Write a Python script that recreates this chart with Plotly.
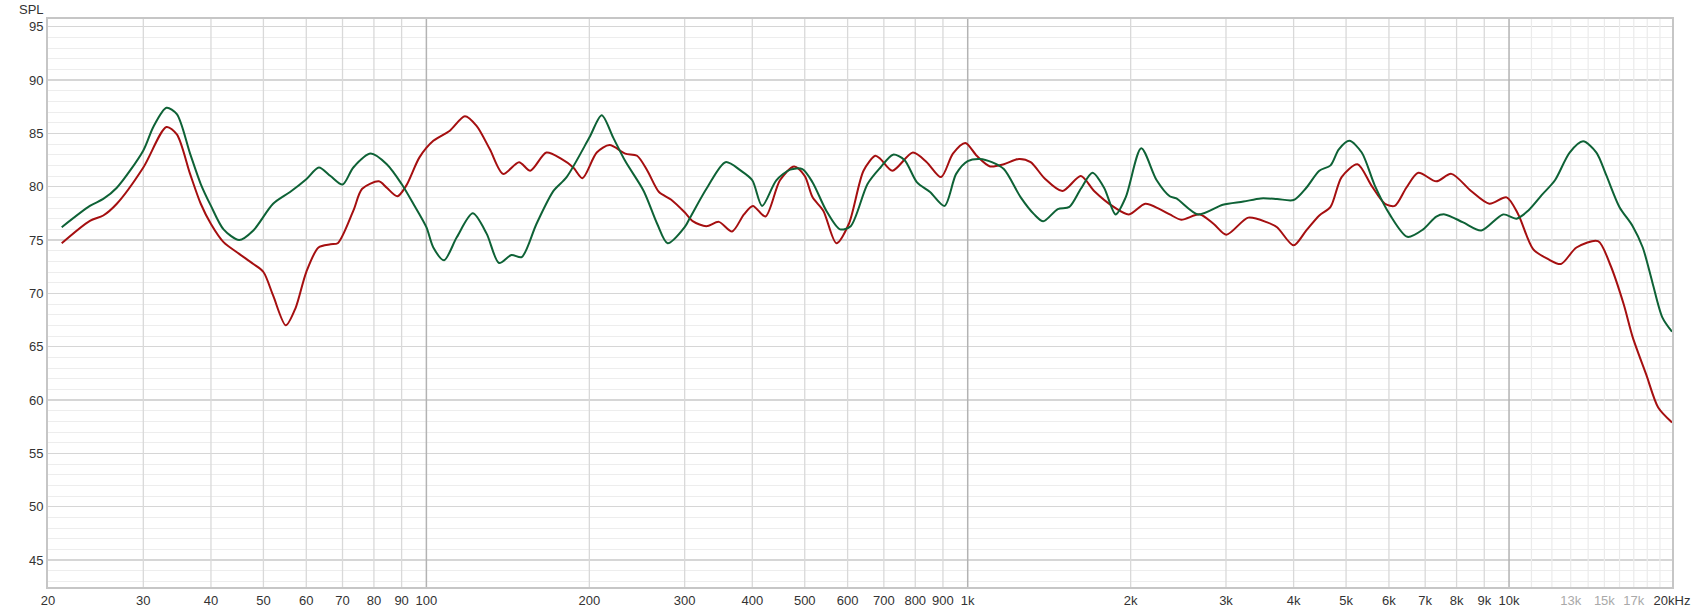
import math
import plotly.graph_objects as go

# ---------------- data ----------------
green_freq = [21.2, 23.9, 25.3, 26.8, 30, 31.3, 33.1, 34.6, 36.6, 38.3, 40, 42.2, 45.1, 47.9,
              52.1, 56, 60, 63.3, 66.5, 70, 73.3, 78.9, 84.5, 90, 94.6, 100, 103, 107.8, 113.8,
              121.8, 129.2, 136.2, 143.6, 150, 159.7, 171.7, 181.6, 200, 210.8, 221.4, 233, 252,
              267, 279, 300, 307, 330, 357, 381, 400, 417, 443, 470, 495, 517, 548, 581, 608,
              653, 690, 728, 764, 806, 852, 906, 952, 1000, 1054, 1108, 1166, 1253, 1327, 1379,
              1467, 1541, 1618, 1700, 1786, 1876, 1958, 2092, 2234, 2362, 2430, 2666, 2960, 3232,
              3478, 3728, 4000, 4222, 4462, 4680, 4848, 5070, 5344, 5650, 6020, 6490, 6940, 7338,
              7610, 8226, 8888, 9752, 10320, 10848, 11488, 12156, 12940, 13700, 14500, 15114,
              15990, 16920, 17660, 18406, 19194, 20000]
green_spl = [76.2, 78.2, 78.85, 79.9, 83.4, 85.6, 87.4, 86.8, 83.1, 80.25, 78.2, 76.0, 75.0, 75.9,
             78.4, 79.5, 80.7, 81.8, 81.0, 80.2, 81.8, 83.1, 82.1, 80.25, 78.4, 76.2, 74.3, 73.1, 75.25,
             77.5, 75.6, 72.85, 73.6, 73.4, 76.5, 79.6, 80.9, 84.6, 86.7, 84.6, 82.4, 79.6,
             76.5, 74.7, 76.2, 77.1, 79.9, 82.3, 81.5, 80.6, 78.2, 80.6, 81.6, 81.65, 80.4, 77.75, 76.0, 76.3,
             80.25, 81.8, 83.0, 82.5, 80.4, 79.5, 78.2, 81.2, 82.4, 82.6, 82.3, 81.65, 79.0, 77.4, 76.75,
             77.9, 78.1, 79.8, 81.3, 79.9, 77.4, 79.0, 83.6, 80.6, 79.1, 78.9, 77.4, 78.3, 78.6,
             78.9, 78.85, 78.75, 79.9, 81.5, 82.0, 83.5, 84.3, 83.2, 80.1, 77.4, 75.3, 76.0, 77.2,
             77.4, 76.65, 75.9, 77.4, 77.0, 77.75, 79.2, 80.6, 83.2, 84.25, 83.2, 81.1,
             78.1, 76.3, 74.3, 71.0, 67.75, 66.4]

red_freq = [21.2, 23.9, 25.3, 26.8, 30, 33.1, 34.6, 36.6, 38.3, 40, 42.2, 45.1, 47.9, 50, 52.1, 55,
            57.3, 60, 63.2, 66.5, 68.6, 73.3, 76.1, 81.7, 84.5, 88.4, 91.8, 97.1, 103, 110.5, 117.8,
            123.8, 131, 138.6, 148.3, 155.6, 166.6, 177.6, 186.8, 194.2, 206.4, 218, 233, 245, 256,
            269, 283, 300, 311, 329, 347, 367, 386, 401, 423, 450, 478, 500, 517, 541, 572, 603,
            642, 675, 690, 726, 792, 840, 893, 939, 990, 1039, 1100, 1166, 1244, 1307, 1386, 1496,
            1618, 1712, 1861, 1985, 2128, 2263, 2362, 2480, 2684, 2848, 3005, 3298, 3576, 3728,
            4000, 4222, 4462, 4680, 4906, 5248, 5570, 5900, 6150, 6460, 6798, 7338, 7822, 8508,
            9198, 9896, 10400, 11078, 11816, 12470, 13322, 14600, 15360, 16280, 16920, 17920,
            18860, 20000]
red_spl = [74.7, 76.8, 77.3, 78.4, 81.8, 85.6, 84.9, 81.2, 78.4, 76.5, 74.8, 73.7, 72.75, 72.0, 69.8, 67.0,
           68.6, 72.0, 74.3, 74.6, 74.7, 77.75, 79.8, 80.5, 79.9, 79.1, 80.1, 82.75, 84.3, 85.25, 86.6,
           85.7, 83.5, 81.2, 82.3, 81.5, 83.2, 82.6, 81.8, 80.8, 83.2, 83.9, 83.1, 82.9, 81.5,
           79.5, 78.8, 77.6, 76.75, 76.3, 76.7, 75.8, 77.4, 78.2, 77.2, 80.6, 81.9, 81.0, 79.0, 77.75, 74.7, 76.5,
           81.5, 82.9, 82.6, 81.5, 83.2, 82.3, 80.9, 83.1, 84.1, 82.9, 81.9, 82.1, 82.6, 82.3, 80.8, 79.6,
           81.0, 79.6, 78.1, 77.4, 78.4, 77.9, 77.4, 76.9, 77.4, 76.5, 75.5, 77.1, 76.65, 76.2,
           74.5, 75.9, 77.3, 78.1, 80.9, 82.1, 80.1, 78.4, 78.2, 79.9, 81.3, 80.5, 81.2, 79.6,
           78.4, 79.0, 77.4, 74.15, 73.2, 72.75, 74.3, 74.9, 72.75, 69.0, 65.9, 62.4,
           59.3, 57.9]

x_tick_vals = [20, 30, 40, 50, 60, 70, 80, 90, 100, 200, 300, 400, 500, 600, 700, 800, 900,
               1000, 2000, 3000, 4000, 5000, 6000, 7000, 8000, 9000, 10000, 13000, 15000, 17000, 20000]
x_tick_text = ["20", "30", "40", "50", "60", "70", "80", "90", "100", "200", "300", "400", "500",
               "600", "700", "800", "900", "1k", "2k", "3k", "4k", "5k", "6k", "7k", "8k", "9k", "10k",
               "<span style='color:#a9a9a9'>13k</span>", "<span style='color:#a9a9a9'>15k</span>",
               "<span style='color:#a9a9a9'>17k</span>", "20kHz"]
y_tick_vals = [45, 50, 55, 60, 65, 70, 75, 80, 85, 90, 95]

grid_regular = [30, 40, 50, 60, 70, 80, 90, 200, 300, 400, 500, 600, 700, 800, 900,
                2000, 3000, 4000, 5000, 6000, 7000, 8000, 9000]
grid_decade = [100, 1000, 10000]
grid_high = [11000, 12000, 13000, 14000, 15000, 16000, 17000, 18000, 19000]

Y_MIN, Y_MAX = 42.47, 95.72
X_MIN, X_MAX = 20, 20000

fig = go.Figure()


def vlines(freqs, color, width):
    xs, ys = [], []
    for f in freqs:
        xs += [f, f, None]
        ys += [Y_MIN, Y_MAX, None]
    fig.add_trace(go.Scatter(x=xs, y=ys, mode="lines", line=dict(color=color, width=width),
                             hoverinfo="skip", showlegend=False))


vlines(grid_high, "#ebebeb", 1.2)
vlines(grid_regular, "#d9d9d9", 1.3)
vlines(grid_decade, "#b3b3b3", 1.5)

fig.add_trace(go.Scatter(x=red_freq, y=red_spl, mode="lines",
                         line=dict(color="#a50f10", width=2, shape="spline", smoothing=0.8),
                         showlegend=False, hoverinfo="skip"))
fig.add_trace(go.Scatter(x=green_freq, y=green_spl, mode="lines",
                         line=dict(color="#0e6236", width=2, shape="spline", smoothing=0.8),
                         showlegend=False, hoverinfo="skip"))

fig.update_layout(
    width=1696, height=613,
    margin=dict(l=48, r=24, t=19, b=26, pad=0, autoexpand=False),
    paper_bgcolor="white", plot_bgcolor="white",
    font=dict(family="Liberation Sans, Arial, sans-serif", size=13, color="#333333"),
    hovermode=False,
    xaxis=dict(type="log", range=[math.log10(X_MIN), math.log10(X_MAX)],
               tickvals=x_tick_vals, ticktext=x_tick_text, ticks="",
               showgrid=False, zeroline=False, automargin=False,
               showline=True, linecolor="#c6c6c6", linewidth=2, mirror=True,
               tickfont=dict(size=13, color="#333333")),
    yaxis=dict(range=[Y_MIN, Y_MAX], tickvals=y_tick_vals, ticks="",
               showgrid=True, gridcolor="#d6d6d6", gridwidth=1.5, zeroline=False, automargin=False,
               showline=True, linecolor="#c6c6c6", linewidth=2, mirror=True,
               minor=dict(dtick=1, tick0=0, showgrid=True, gridcolor="#ededed", gridwidth=1),
               tickfont=dict(size=13, color="#333333"), ticklabelstandoff=0),
    annotations=[dict(text="SPL", xref="paper", yref="paper", x=-0.0012, y=1.0176,
                      xanchor="right", yanchor="middle", showarrow=False,
                      font=dict(size=13, color="#333333"))],
)

fig.write_html("out.html",
               config={"displayModeBar": False, "staticPlot": True},
               post_script="document.body.style.margin='0';document.body.style.overflow='hidden';")
